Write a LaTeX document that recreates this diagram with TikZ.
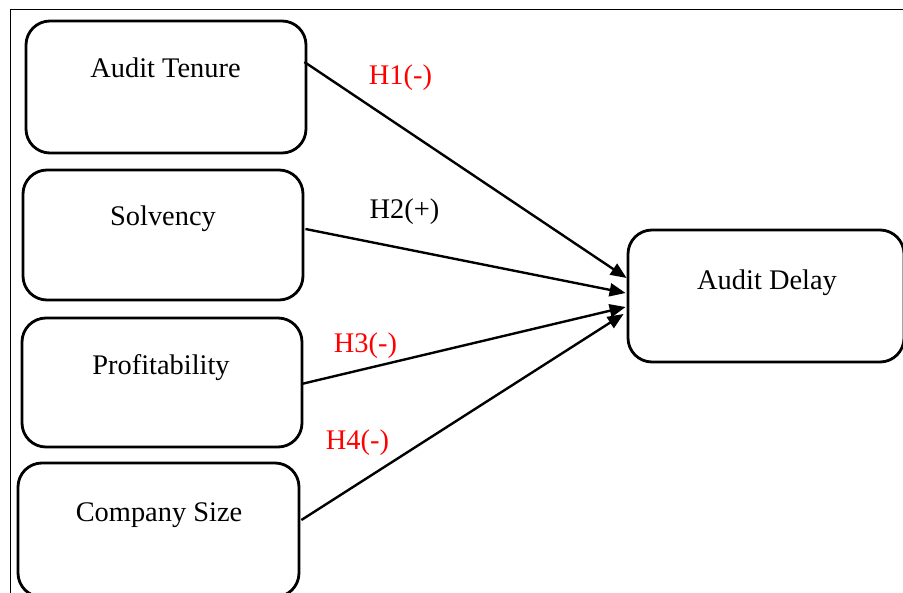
\documentclass[tikz,border=0pt]{standalone}
\usepackage{fontspec}
\setmainfont{Liberation Serif}
\usetikzlibrary{arrows.meta,calc}
\begin{document}
\begin{tikzpicture}[x=0.5pt,y=-0.5pt,
  box/.style={draw, line width=1.4pt, rounded corners=12pt, inner sep=0pt},
  lbl/.style={anchor=base, font=\fontsize{14.2}{17}\selectfont},
  hyp/.style={anchor=base, font=\fontsize{14.2}{17}\selectfont},
  conn/.style={line width=1.2pt, -{Triangle[length=8pt,width=6.5pt]}},
  frame/.style={draw, line width=0.5pt}]
\useasboundingbox (0,0) rectangle (903,593);
\draw[frame] (10,600) -- (10,10) -- (910,10);
% boxes
\node[box, minimum width=140pt, minimum height=66pt] (at) at (166,87) {};
\node[box, minimum width=140pt, minimum height=65pt] (sv) at (163,235) {};
\node[box, minimum width=140pt, minimum height=64.5pt] (pr) at (162,382.5) {};
\node[box, minimum width=140.5pt, minimum height=67pt] (cs) at (158.5,530) {};
\node[box, minimum width=138pt, minimum height=66pt] (ad) at (766,296) {};
% texts
\node[lbl] (tat) at (165.5,78) {Audit Tenure};
\node[lbl] (tsv) at (163,226) {Solvency};
\node[lbl] (tpr) at (161,374) {Profitability};
\node[lbl] (tcs) at (159,521) {Company Size};
\node[lbl] (tad) at (767,289) {Audit Delay};
% connectors
\draw[conn] ($(at.east)+(-3,-25)$) -- ($(ad.west)+(0,-18)$);
\draw[conn] ($(sv.east)+(1,-6)$) -- ($(ad.west)+(-1,-3)$);
\draw[conn] ($(pr.east)+(-2,1.5)$) -- ($(ad.west)+(-1,11)$);
\draw[conn] ($(cs.east)+(1,-10)$) -- ($(ad.west)+(-3,18)$);
% hypothesis labels
\node[hyp, text=red] (h1) at (400.5,85) {H1(-)};
\node[hyp] (h2) at (404.5,219) {H2(+)};
\node[hyp, text=red] (h3) at (365.5,352) {H3(-)};
\node[hyp, text=red] (h4) at (357.5,449) {H4(-)};
\end{tikzpicture}
\end{document}
